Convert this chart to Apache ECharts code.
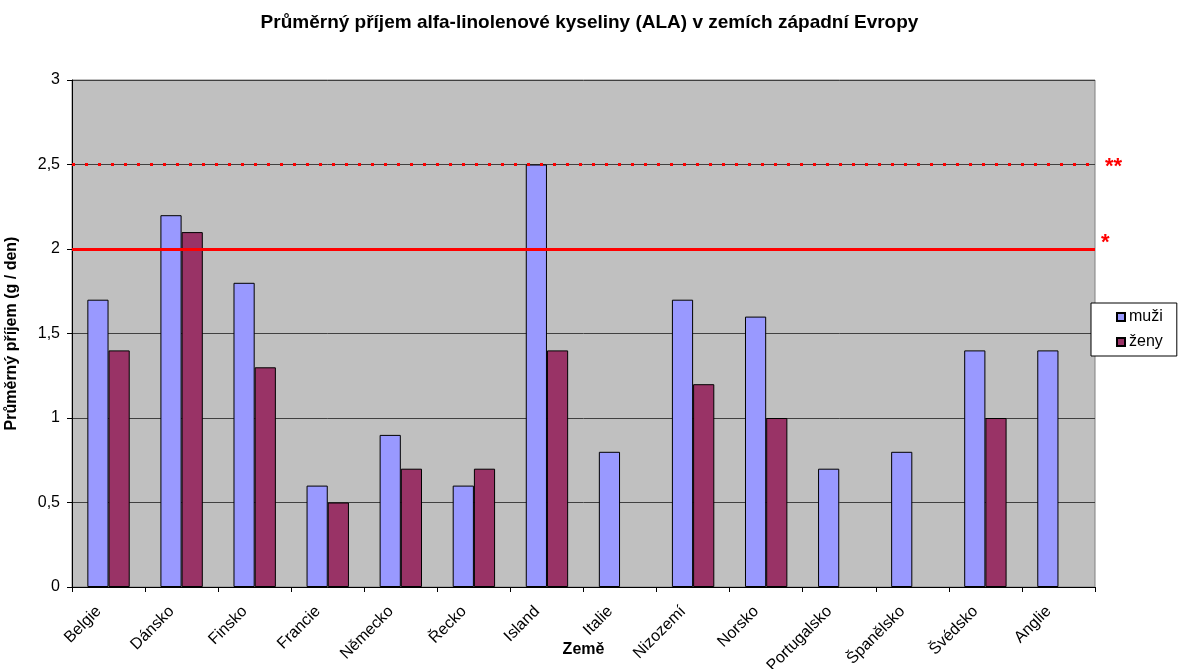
<!DOCTYPE html>
<html>
<head>
<meta charset="utf-8">
<script src="https://cdn.jsdelivr.net/npm/echarts@6/dist/echarts.min.js"></script>
<style>
  html, body { margin: 0; padding: 0; background: #fff; }
  #chart { width: 1179px; height: 669px; }
</style>
</head>
<body>
<div id="chart"></div>
<script>
const zeme = ['Belgie', 'Dánsko', 'Finsko', 'Francie', 'Německo', 'Řecko', 'Island', 'Italie',
  'Nizozemí', 'Norsko', 'Portugalsko', 'Španělsko', 'Švédsko', 'Anglie'];
const muzi = [1.7, 2.2, 1.8, 0.6, 0.9, 0.6, 2.5, 0.8, 1.7, 1.6, 0.7, 0.8, 1.4, 1.4];
const zeny = [1.4, 2.1, 1.3, 0.5, 0.7, 0.7, 1.4, null, 1.2, 1.0, null, null, 1.0, null];
const doporuceni = [2, 2.5]; // * a **

const chart = echarts.init(document.getElementById('chart'));
const font = 'Liberation Sans, Arial, sans-serif';

chart.setOption({
  animation: false,
  textStyle: { fontFamily: font },
  title: {
    text: 'Průměrný příjem alfa-linolenové kyseliny (ALA) v zemích západní Evropy',
    left: 'center',
    top: 8,
    textStyle: { fontSize: 19, fontWeight: 'bold', color: '#000', fontFamily: font }
  },
  legend: {
    data: ['muži', 'ženy'],
    orient: 'vertical',
    left: 1091,
    top: 303,
    icon: 'rect',
    itemWidth: 8,
    itemHeight: 8,
    itemGap: 9,
    padding: [6, 14, 6, 25],
    borderColor: '#000',
    borderWidth: 1,
    backgroundColor: '#fff',
    textStyle: { fontSize: 16, color: '#000', fontFamily: font, padding: [0, 0, 0, -1] }
  },
  grid: {
    left: 72,
    right: 1179 - 1095,
    top: 80,
    bottom: 669 - 587,
    show: true,
    backgroundColor: '#c0c0c0',
    borderColor: '#808080',
    borderWidth: 1,
    containLabel: false,
    outerBoundsMode: 'none'
  },
  xAxis: {
    type: 'category',
    data: zeme,
    name: 'Země',
    nameLocation: 'middle',
    nameGap: 55,
    nameMoveOverlap: false,
    nameTextStyle: { fontSize: 16, fontWeight: 'bold', color: '#000', fontFamily: font },
    axisLine: { lineStyle: { color: '#000' } },
    axisTick: { show: true, alignWithLabel: false, length: 5, lineStyle: { color: '#000' } },
    axisLabel: { rotate: 45, interval: 0, fontSize: 16, color: '#000', margin: 12, padding: [0, 14, 0, 0] }
  },
  yAxis: {
    type: 'value',
    min: 0,
    max: 3,
    interval: 0.5,
    name: 'Průměrný příjem (g / den)',
    nameLocation: 'middle',
    nameGap: 52,
    nameTextStyle: { fontSize: 16, fontWeight: 'bold', color: '#000', fontFamily: font },
    axisLine: { show: true, lineStyle: { color: '#000' } },
    axisTick: { show: true, length: 5, lineStyle: { color: '#000' } },
    axisLabel: {
      fontSize: 16, color: '#000', margin: 12,
      formatter: v => String(v).replace('.', ',')
    },
    splitLine: { lineStyle: { color: '#404040', width: 1 } }
  },
  series: [
    {
      name: 'muži',
      type: 'bar',
      data: muzi,
      barGap: '0%',
      barCategoryGap: '42%',
      itemStyle: { color: '#9999ff', borderColor: '#000', borderWidth: 1 },
      markLine: {
        symbol: 'none',
        silent: true,
        data: [
          {
            yAxis: doporuceni[0],
            lineStyle: { color: '#ff0000', type: 'solid', width: 3 },
            label: { formatter: '*', position: 'end', color: '#ff0000', fontSize: 22, fontWeight: 'bold', distance: 6, offset: [0, -6] }
          },
          {
            yAxis: doporuceni[1],
            lineStyle: { color: '#ff0000', type: [3, 10], width: 3 },
            label: { formatter: '**', position: 'end', color: '#ff0000', fontSize: 22, fontWeight: 'bold', distance: 10, offset: [0, 2] }
          }
        ]
      }
    },
    {
      name: 'ženy',
      type: 'bar',
      data: zeny,
      itemStyle: { color: '#993366', borderColor: '#000', borderWidth: 1 }
    }
  ]
});
</script>
</body>
</html>
